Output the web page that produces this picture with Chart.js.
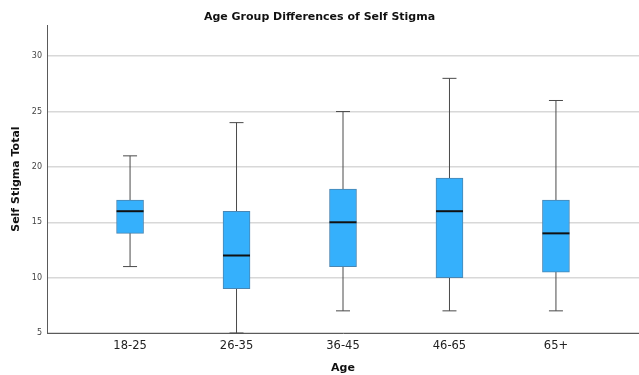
<!DOCTYPE html>
<html>
<head>
<meta charset="utf-8">
<script src="https://cdn.jsdelivr.net/npm/chart.js@4.4.1/dist/chart.umd.min.js"></script>
<style>
  html, body { margin: 0; padding: 0; background: #ffffff; overflow: hidden; }
  #wrap { width: 639px; height: 375px; position: relative; }
  #chart { display: block; }
</style>
</head>
<body>
<div id="wrap"><canvas id="chart"></canvas></div>
<script>
// Five-number summaries of the self stigma total per age group
const ageGroups   = ['18-25', '26-35', '36-45', '46-65', '65+'];
const whiskerLow  = [11, 5, 7, 7, 7];
const quartile1   = [14, 9, 11, 10, 10.5];
const medians     = [16, 12, 15, 16, 14];
const quartile3   = [17, 16, 18, 19, 17];
const whiskerHigh = [21, 24, 25, 28, 26];
const yTickValues = [5, 10, 15, 20, 25, 30];

// Vertical whisker segments, separated by gaps so each group is its own line
const stemPoints = [];
ageGroups.forEach((_, i) => {
  stemPoints.push({ x: i, y: whiskerLow[i] });
  stemPoints.push({ x: i, y: whiskerHigh[i] });
  stemPoints.push({ x: i, y: null });
});
const capPoints = [];
ageGroups.forEach((_, i) => {
  capPoints.push({ x: i, y: whiskerLow[i] });
  capPoints.push({ x: i, y: whiskerHigh[i] });
});
const boxData = ageGroups.map((_, i) => ({ x: i, y: [quartile1[i], quartile3[i]] }));
const medianData = ageGroups.map((_, i) => ({ x: i, y: medians[i] }));

const FONT = 'DejaVu Sans';

new Chart(document.getElementById('chart'), {
  type: 'bar',
  data: {
    datasets: [
      {
        type: 'line',
        data: stemPoints,
        borderColor: '#4a4a4a',
        borderWidth: 1,
        pointRadius: 0,
        spanGaps: false,
        fill: false,
        order: 4
      },
      {
        type: 'bar',
        data: boxData,
        grouped: false,
        barThickness: 27,
        backgroundColor: '#35b0fc',
        borderColor: '#4a86b2',
        borderWidth: 1,
        borderSkipped: false,
        order: 3
      },
      {
        type: 'scatter',
        data: capPoints,
        pointStyle: 'line',
        pointRadius: 7,
        pointBorderColor: '#4a4a4a',
        pointBorderWidth: 1,
        clip: false,
        order: 2
      },
      {
        type: 'scatter',
        data: medianData,
        pointStyle: 'line',
        pointRadius: 13.5,
        pointBorderColor: '#111111',
        pointBorderWidth: 2,
        clip: false,
        order: 1
      }
    ]
  },
  options: {
    responsive: true,
    maintainAspectRatio: false,
    animation: false,
    events: [],
    layout: { padding: 0, autoPadding: false },
    plugins: {
      legend: { display: false },
      tooltip: { enabled: false },
      title: {
        display: true,
        text: 'Age Group Differences of Self Stigma',
        color: '#111111',
        font: { family: FONT, size: 11, weight: 'bold' },
        padding: { top: 11, bottom: 1 }
      }
    },
    scales: {
      x: {
        type: 'linear',
        min: -0.78,
        max: 4.78,
        offset: false,
        grid: { drawOnChartArea: false, drawTicks: false },
        border: { color: '#5a5a5a', width: 1 },
        afterBuildTicks: (s) => { s.ticks = ageGroups.map((_, i) => ({ value: i })); },
        ticks: {
          autoSkip: false,
          maxRotation: 0,
          color: '#222222',
          font: { family: FONT, size: 11.5 },
          padding: 6,
          callback: (v) => ageGroups[Math.round(v)]
        },
        title: {
          display: true,
          text: 'Age',
          color: '#111111',
          font: { family: FONT, size: 11, weight: 'bold' },
          padding: { top: 0, bottom: 0 }
        },
        afterFit: (s) => { s.height = 42; s.paddingRight = 0; s.paddingLeft = 0; }
      },
      y: {
        min: 5,
        max: 32.8,
        grid: { color: '#d8d8d8', lineWidth: 1.5, drawTicks: false },
        border: { color: '#5a5a5a', width: 1 },
        afterBuildTicks: (s) => { s.ticks = yTickValues.map(v => ({ value: v })); },
        ticks: {
          color: '#444444',
          font: { family: FONT, size: 8 },
          padding: 5
        },
        title: {
          display: true,
          text: 'Self Stigma Total',
          color: '#111111',
          font: { family: FONT, size: 11, weight: 'bold' },
          padding: { top: 10, bottom: 0 }
        },
        afterFit: (s) => { s.width = 47; s.paddingTop = 0; s.paddingBottom = 0; }
      }
    }
  }
});
</script>
</body>
</html>
